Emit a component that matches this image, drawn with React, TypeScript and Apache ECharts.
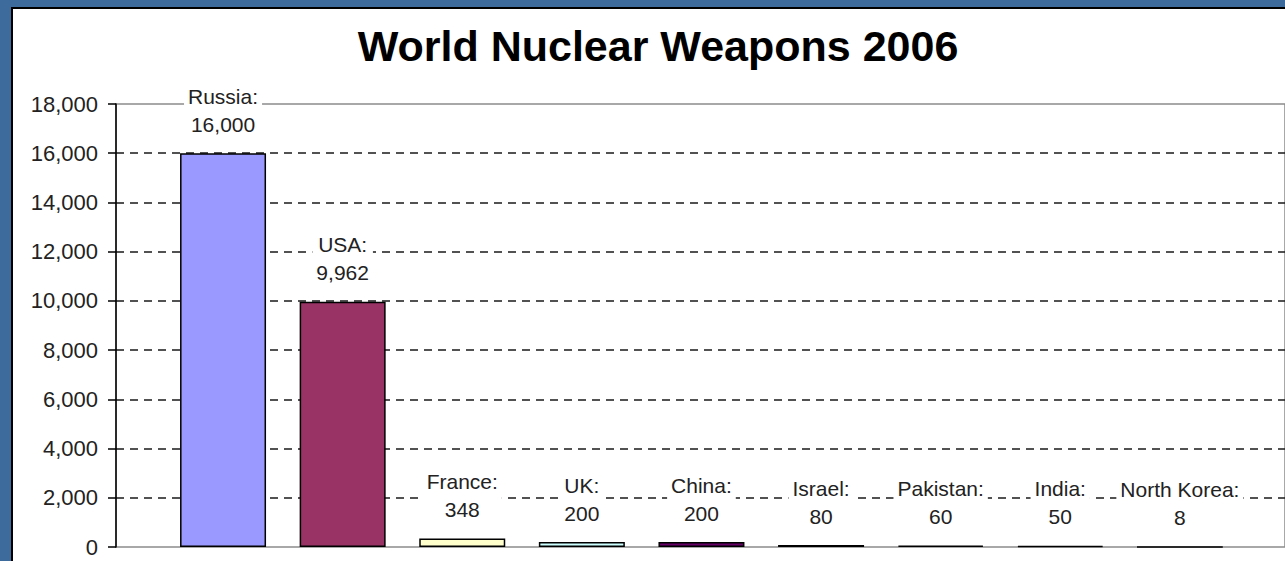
import React, { useEffect, useRef } from "react";
import * as echarts from "echarts";

const chartTitle = "World Nuclear Weapons 2006";
const countries = ["Russia", "USA", "France", "UK", "China", "Israel", "Pakistan", "India", "North Korea"];
const warheads = [16000, 9962, 348, 200, 200, 80, 60, 50, 8];
const barColors = ["#9999FF", "#993366", "#FFFFCC", "#CCFFFF", "#660066", "#FF8080", "#0066CC", "#CCCCFF", "#000080"];
const yMin = 0;
const yMax = 18000;
const yStep = 2000;

const FONT = "'Liberation Sans', Arial, Helvetica, sans-serif";
const FRAME_BLUE = "#3c6b9c";

export default function App() {
  const ref = useRef<HTMLDivElement>(null);

  useEffect(() => {
    if (!ref.current) return;
    const chart = echarts.init(ref.current, null, { renderer: "svg" });
    const fmt = (v: number) => v.toLocaleString("en-US");
    chart.setOption({
      animation: false,
      backgroundColor: "#ffffff",
      textStyle: { fontFamily: FONT },
      graphic: [
        { type: "rect", z: 100, shape: { x: 0, y: 0, width: 1285, height: 8 }, style: { fill: FRAME_BLUE } },
        { type: "rect", z: 100, shape: { x: 0, y: 0, width: 11, height: 561 }, style: { fill: FRAME_BLUE } },
        { type: "rect", z: 101, shape: { x: 11, y: 7, width: 1274, height: 2 }, style: { fill: "#000" } },
        { type: "rect", z: 101, shape: { x: 11, y: 7, width: 2, height: 554 }, style: { fill: "#000" } },
        {
          type: "text",
          z: 101,
          x: 658,
          y: 46,
          style: {
            text: chartTitle,
            fontFamily: FONT,
            fontSize: 43,
            fontWeight: "bold",
            fill: "#000",
            textAlign: "center",
            textVerticalAlign: "middle",
          },
        },
      ],
      grid: {
        left: 116,
        right: 0,
        top: 104,
        bottom: 14,
        show: true,
        backgroundColor: "transparent",
        borderColor: "#8c8c8c",
        borderWidth: 1.5,
      },
      xAxis: {
        type: "value",
        min: -0.895,
        max: 8.879,
        show: false,
      },
      yAxis: {
        type: "value",
        min: yMin,
        max: yMax,
        interval: yStep,
        axisLine: { show: true, onZero: false, lineStyle: { color: "#000", width: 1.5 } },
        axisTick: { show: true, inside: false, length: 8, lineStyle: { color: "#000", width: 1.5 } },
        axisLabel: {
          margin: 18,
          fontSize: 22,
          color: "#222",
          fontFamily: FONT,
          formatter: (v: number) => fmt(v),
        },
        splitLine: {
          show: true,
          showMinLine: false,
          showMaxLine: false,
          lineStyle: { color: "#1a1a1a", width: 1.6, type: [8, 6] },
        },
      },
      series: [
        {
          type: "bar",
          barWidth: 86,
          data: warheads.map((v, i) => ({
            value: [i, v],
            itemStyle: { color: barColors[i], borderColor: "#000", borderWidth: 1.5 },
          })),
          label: {
            show: true,
            position: "top",
            distance: 15,
            fontSize: 21,
            lineHeight: 28,
            color: "#222",
            fontFamily: FONT,
            backgroundColor: "#ffffff",
            padding: [0, 4],
            formatter: (p: any) => `${countries[p.dataIndex]}:\n${fmt(warheads[p.dataIndex])}`,
          },
        },
      ],
    });
    return () => chart.dispose();
  }, []);

  return (
    <div
      ref={ref}
      style={{ position: "absolute", left: 0, top: 0, width: 1285, height: 561 }}
    />
  );
}
